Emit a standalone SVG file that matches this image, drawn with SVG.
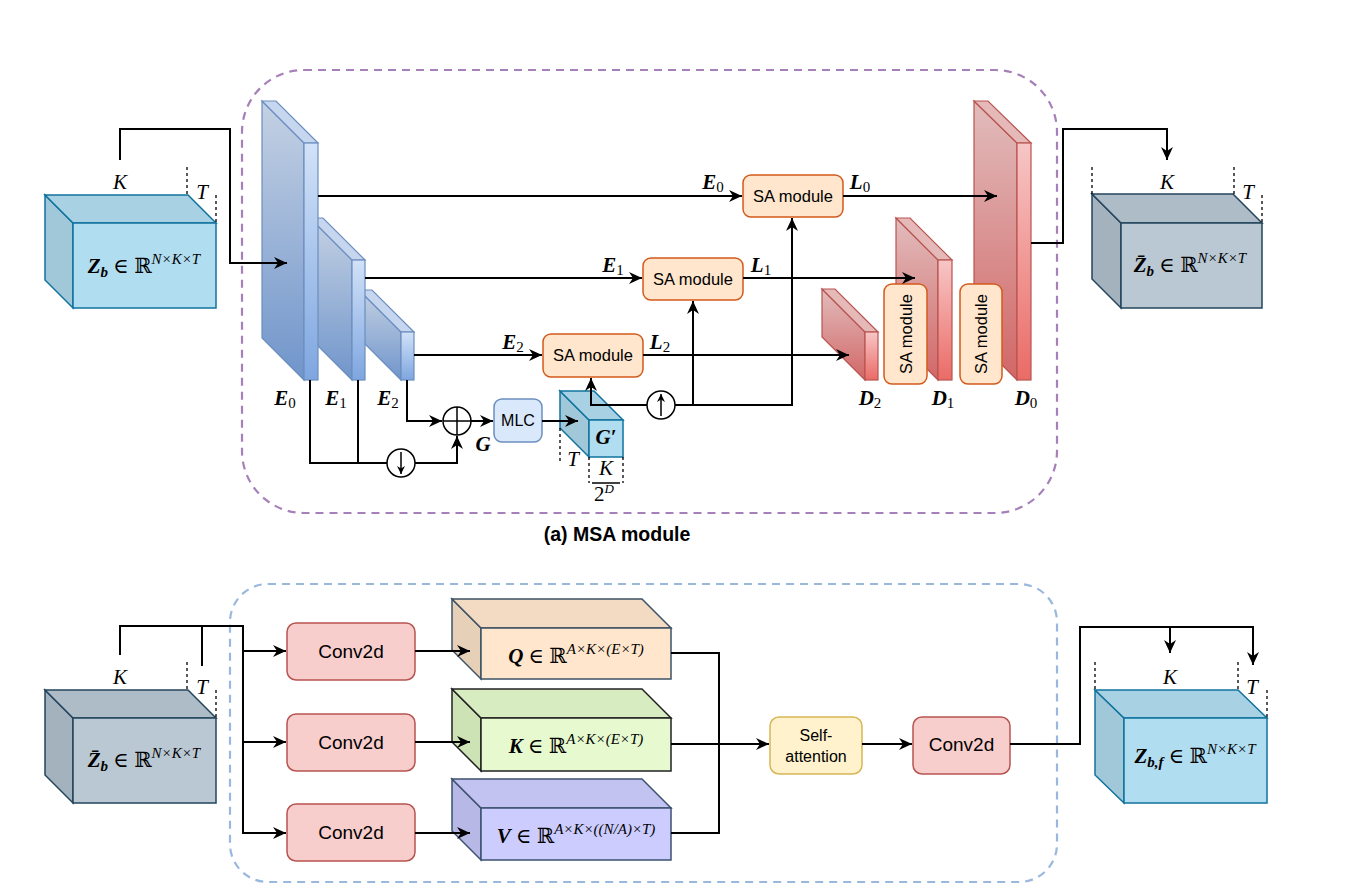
<svg xmlns="http://www.w3.org/2000/svg" width="1349" height="889" viewBox="0 0 1349 889">
  <defs>
    <style>
      .ln { fill: none; stroke: #000; stroke-width: 2; }
      .arr { marker-end: url(#ah); }
      .dim { fill: none; stroke: #000; stroke-width: 1.3; stroke-dasharray: 3 3; }
      .m { font-family: "Liberation Serif", "DejaVu Serif", serif; font-size: 21px; fill: #000; }
      .bi { font-weight: bold; font-style: italic; }
      .it { font-style: italic; }
      .sm { font-size: 15px; }
      .lbl { font-family: "Liberation Sans", Arial, sans-serif; fill: #000; text-anchor: middle; }
      .sa { fill: #ffe6cc; stroke: #d35a1d; stroke-width: 1.5; }
      .conv { fill: #f8cecc; stroke: #b85450; stroke-width: 1.5; }
      .blueC { stroke: #10739e; stroke-width: 1.5; }
      .grayC { stroke: #23445d; stroke-width: 1.5; }
      .encS { stroke: #6c8ebf; stroke-width: 1.2; }
      .decS { stroke: #b85450; stroke-width: 1.2; }
    </style>
    <marker id="ah" viewBox="0 0 13 12" refX="13" refY="6" markerWidth="13" markerHeight="12" markerUnits="userSpaceOnUse" orient="auto">
      <path d="M0,0 L13,6 L0,12 L4,6 Z" fill="#000"/>
    </marker>
    <marker id="ahs" viewBox="0 0 8 8" refX="8" refY="4" markerWidth="8" markerHeight="8" markerUnits="userSpaceOnUse" orient="auto">
      <path d="M0,0 L8,4 L0,8 L2.5,4 Z" fill="#000"/>
    </marker>
    <linearGradient id="encSide" x1="0" y1="0" x2="0" y2="1">
      <stop offset="0" stop-color="#c4d1e3"/>
      <stop offset="1" stop-color="#7095cb"/>
    </linearGradient>
    <linearGradient id="encFront" x1="0" y1="0" x2="0" y2="1">
      <stop offset="0" stop-color="#d2e2f8"/>
      <stop offset="1" stop-color="#7ea6e0"/>
    </linearGradient>
    <linearGradient id="decSide" x1="0" y1="0" x2="0" y2="1">
      <stop offset="0" stop-color="#e2bcbc"/>
      <stop offset="1" stop-color="#d26767"/>
    </linearGradient>
    <linearGradient id="decFront" x1="0" y1="0" x2="0" y2="1">
      <stop offset="0" stop-color="#f7c6c6"/>
      <stop offset="1" stop-color="#ea6b66"/>
    </linearGradient>
  </defs>

  <rect width="1349" height="889" fill="#fff"/>

  <!-- frames -->
  <g id="msa-frame">
    <rect x="242" y="70" width="815" height="443" rx="62" fill="none" stroke="#a680b8" stroke-width="2.2" stroke-dasharray="8 6"/>
    <text x="617" y="541" class="lbl" font-size="19.5" font-weight="bold">(a) MSA module</text>
  </g>
  <g id="attn-frame">
    <rect x="230" y="584" width="827" height="298" rx="38" fill="none" stroke="#9ab8de" stroke-width="2.2" stroke-dasharray="8 6"/>
  </g>

  <!-- input tensor Z_b -->
  <g id="zb-in">
    <polygon class="blueC" fill="#a0c8d9" points="45,195 73,223 73,308 45,280"/>
    <polygon class="blueC" fill="#a8d2e4" points="45,195 188,195 216,223 73,223"/>
    <rect class="blueC" fill="#b1ddf0" x="73" y="223" width="143" height="85"/>
    <text x="144" y="273" text-anchor="middle" class="m"><tspan class="bi">Z</tspan><tspan class="bi sm" dy="4">b</tspan><tspan dy="-4"> ∈ ℝ</tspan><tspan class="it sm" dy="-9">N×K×T</tspan></text>
    <path class="dim" d="M187,167 V195 M216,195 V223"/>
    <text x="120" y="189" text-anchor="middle" class="m it" font-size="20">K</text>
    <text x="202" y="199" text-anchor="middle" class="m it" font-size="20">T</text>
  </g>

  <!-- encoder features -->
  <g id="enc-e2">
    <polygon class="encS" fill="url(#encSide)" points="359,290 401,332 401,380 359,338"/>
    <polygon class="encS" fill="#c6d6ee" points="359,290 372,290 414,332 401,332"/>
    <rect class="encS" fill="url(#encFront)" x="401" y="332" width="13" height="48"/>
    <text x="388" y="405" text-anchor="middle" class="m"><tspan class="bi">E</tspan><tspan class="sm" dy="3">2</tspan></text>
  </g>
  <g id="enc-e1">
    <polygon class="encS" fill="url(#encSide)" points="310,218 352,260 352,380 310,338"/>
    <polygon class="encS" fill="#c6d6ee" points="310,218 323,218 365,260 352,260"/>
    <rect class="encS" fill="url(#encFront)" x="352" y="260" width="13" height="120"/>
    <text x="336" y="405" text-anchor="middle" class="m"><tspan class="bi">E</tspan><tspan class="sm" dy="3">1</tspan></text>
  </g>
  <g id="enc-e0">
    <polygon class="encS" fill="url(#encSide)" points="262,101 304,143 304,380 262,338"/>
    <polygon class="encS" fill="#c6d6ee" points="262,101 276,101 318,143 304,143"/>
    <rect class="encS" fill="url(#encFront)" x="304" y="143" width="14" height="237"/>
    <text x="285" y="405" text-anchor="middle" class="m"><tspan class="bi">E</tspan><tspan class="sm" dy="3">0</tspan></text>
  </g>

  <!-- fusion -->
  <g id="sum">
    <circle cx="457" cy="421" r="14" fill="#fff" stroke="#000" stroke-width="1.5"/>
    <path d="M443,421 H471 M457,407 V435" stroke="#000" stroke-width="1.5"/>
    <text x="483" y="451" text-anchor="middle" class="m bi">G</text>
  </g>
  <g id="down">
    <circle cx="401" cy="463" r="14" fill="#fff" stroke="#000" stroke-width="1.5"/>
    <path d="M401,452 V474" stroke="#000" stroke-width="1.5" marker-end="url(#ahs)"/>
  </g>
  <g id="mlc">
    <rect x="494" y="399" width="48" height="43" rx="8" fill="#dae8fc" stroke="#6c8ebf" stroke-width="1.5"/>
    <text x="518" y="426" class="lbl" font-size="16">MLC</text>
  </g>
  <g id="g-prime">
    <polygon class="blueC" fill="#a0c8d9" points="560,391 589,420 589,457 560,428"/>
    <polygon class="blueC" fill="#a8d2e4" points="560,391 594,391 623,420 589,420"/>
    <rect class="blueC" fill="#b1ddf0" x="589" y="420" width="34" height="37"/>
    <text x="606" y="444" text-anchor="middle" class="m bi">G′</text>
    <path class="dim" d="M560,428 V462 M589,457 V483 M623,457 V483"/>
    <text x="573" y="466" text-anchor="middle" class="m it" font-size="19">T</text>
    <text x="606" y="475" text-anchor="middle" class="m it" font-size="19">K</text>
    <path d="M592,483 H620" stroke="#000" stroke-width="1.5"/>
    <text x="604" y="501" text-anchor="middle" class="m" font-size="19">2<tspan class="it" font-size="13" dy="-8">D</tspan></text>
  </g>
  <g id="up">
    <circle cx="661" cy="405" r="14" fill="#fff" stroke="#000" stroke-width="1.5"/>
    <path d="M661,416 V394" stroke="#000" stroke-width="1.5" marker-end="url(#ahs)"/>
  </g>

  <!-- SA modules on skip paths -->
  <g id="sa-0">
    <rect class="sa" x="743" y="175" width="100" height="42" rx="8"/>
    <text x="793" y="202" class="lbl" font-size="16.5">SA module</text>
  </g>
  <g id="sa-1">
    <rect class="sa" x="643" y="258" width="100" height="42" rx="8"/>
    <text x="693" y="285" class="lbl" font-size="16.5">SA module</text>
  </g>
  <g id="sa-2">
    <rect class="sa" x="543" y="334" width="100" height="43" rx="8"/>
    <text x="593" y="361" class="lbl" font-size="16.5">SA module</text>
  </g>

  <!-- decoder features -->
  <g id="dec-d2">
    <polygon class="decS" fill="url(#decSide)" points="822,289 865,332 865,380 822,337"/>
    <polygon class="decS" fill="#e6b9b9" points="822,289 835,289 878,332 865,332"/>
    <rect class="decS" fill="url(#decFront)" x="865" y="332" width="13" height="48"/>
    <text x="870" y="405" text-anchor="middle" class="m"><tspan class="bi">D</tspan><tspan class="sm" dy="3">2</tspan></text>
  </g>
  <g id="dec-d1">
    <polygon class="decS" fill="url(#decSide)" points="896,218 938,260 938,380 896,338"/>
    <polygon class="decS" fill="#e6b9b9" points="896,218 910,218 952,260 938,260"/>
    <rect class="decS" fill="url(#decFront)" x="938" y="260" width="14" height="120"/>
    <text x="943" y="405" text-anchor="middle" class="m"><tspan class="bi">D</tspan><tspan class="sm" dy="3">1</tspan></text>
  </g>
  <g id="sa-d1">
    <rect class="sa" x="884" y="284" width="43" height="100" rx="8"/>
    <text x="905.5" y="340" class="lbl" font-size="16.5" transform="rotate(-90 905.5 334)">SA module</text>
  </g>
  <g id="dec-d0">
    <polygon class="decS" fill="url(#decSide)" points="974,101 1017,143 1017,380 974,337"/>
    <polygon class="decS" fill="#e6b9b9" points="974,101 988,101 1031,143 1017,143"/>
    <rect class="decS" fill="url(#decFront)" x="1017" y="143" width="14" height="237"/>
    <text x="1026" y="405" text-anchor="middle" class="m"><tspan class="bi">D</tspan><tspan class="sm" dy="3">0</tspan></text>
  </g>
  <g id="sa-d0">
    <rect class="sa" x="960" y="284" width="42" height="100" rx="8"/>
    <text x="981" y="340" class="lbl" font-size="16.5" transform="rotate(-90 981 334)">SA module</text>
  </g>

  <!-- output tensor of MSA -->
  <g id="zbar-out">
    <polygon class="grayC" fill="#a4b2bd" points="1092,194 1121,223 1121,308 1092,279"/>
    <polygon class="grayC" fill="#aebcc7" points="1092,194 1233,194 1262,223 1121,223"/>
    <rect class="grayC" fill="#bac8d3" x="1121" y="223" width="141" height="85"/>
    <text x="1190" y="272" text-anchor="middle" class="m"><tspan class="bi">Z̄</tspan><tspan class="bi sm" dy="4">b</tspan><tspan dy="-4"> ∈ ℝ</tspan><tspan class="it sm" dy="-9">N×K×T</tspan></text>
    <path class="dim" d="M1092,167 V194 M1234,167 V194 M1262,195 V223"/>
    <text x="1167" y="189" text-anchor="middle" class="m it" font-size="20">K</text>
    <text x="1248" y="199" text-anchor="middle" class="m it" font-size="20">T</text>
  </g>

  <!-- bottom: self-attention block input -->
  <g id="zbar-in">
    <polygon class="grayC" fill="#a4b2bd" points="45,690 73,718 73,803 45,775"/>
    <polygon class="grayC" fill="#aebcc7" points="45,690 188,690 216,718 73,718"/>
    <rect class="grayC" fill="#bac8d3" x="73" y="718" width="143" height="85"/>
    <text x="144" y="767" text-anchor="middle" class="m"><tspan class="bi">Z̄</tspan><tspan class="bi sm" dy="4">b</tspan><tspan dy="-4"> ∈ ℝ</tspan><tspan class="it sm" dy="-9">N×K×T</tspan></text>
    <path class="dim" d="M187,662 V690 M216,690 V718"/>
    <text x="120" y="684" text-anchor="middle" class="m it" font-size="20">K</text>
    <text x="202" y="694" text-anchor="middle" class="m it" font-size="20">T</text>
  </g>

  <g id="conv-q">
    <rect class="conv" x="287" y="623" width="128" height="57" rx="9"/>
    <text x="351" y="658" class="lbl" font-size="19">Conv2d</text>
  </g>
  <g id="conv-k">
    <rect class="conv" x="287" y="714" width="128" height="57" rx="9"/>
    <text x="351" y="749" class="lbl" font-size="19">Conv2d</text>
  </g>
  <g id="conv-v">
    <rect class="conv" x="287" y="804" width="128" height="57" rx="9"/>
    <text x="351" y="839" class="lbl" font-size="19">Conv2d</text>
  </g>

  <g id="q-tensor">
    <polygon fill="#e6d0b8" stroke="#3d5266" stroke-width="1.5" points="452,599 481,628 481,679 452,650"/>
    <polygon fill="#f2dbc2" stroke="#3d5266" stroke-width="1.5" points="452,599 642,599 671,628 481,628"/>
    <rect fill="#ffe6cc" stroke="#3d5266" stroke-width="1.5" x="481" y="628" width="190" height="51"/>
    <text x="576" y="663" text-anchor="middle" class="m"><tspan class="bi">Q</tspan><tspan> ∈ ℝ</tspan><tspan class="it sm" dy="-9">A×K×(E×T)</tspan></text>
  </g>
  <g id="k-tensor">
    <polygon fill="#cde3b6" stroke="#222" stroke-width="1.5" points="452,689 481,718 481,771 452,742"/>
    <polygon fill="#d7ecc1" stroke="#222" stroke-width="1.5" points="452,689 642,689 671,718 481,718"/>
    <rect fill="#e6f9cf" stroke="#222" stroke-width="1.5" x="481" y="718" width="190" height="53"/>
    <text x="576" y="753" text-anchor="middle" class="m"><tspan class="bi">K</tspan><tspan> ∈ ℝ</tspan><tspan class="it sm" dy="-9">A×K×(E×T)</tspan></text>
  </g>
  <g id="v-tensor">
    <polygon fill="#b8b8e6" stroke="#3d5170" stroke-width="1.5" points="452,779 481,808 481,860 452,831"/>
    <polygon fill="#c3c3f2" stroke="#3d5170" stroke-width="1.5" points="452,779 642,779 671,808 481,808"/>
    <rect fill="#ccccff" stroke="#3d5170" stroke-width="1.5" x="481" y="808" width="190" height="52"/>
    <text x="576" y="843" text-anchor="middle" class="m"><tspan class="bi">V</tspan><tspan> ∈ ℝ</tspan><tspan class="it sm" dy="-9">A×K×((N/A)×T)</tspan></text>
  </g>

  <g id="self-attention">
    <rect x="770" y="717" width="92" height="57" rx="9" fill="#fff2cc" stroke="#d6b656" stroke-width="1.5"/>
    <text x="816" y="741" class="lbl" font-size="16">Self-</text>
    <text x="816" y="762" class="lbl" font-size="16">attention</text>
  </g>
  <g id="conv-out">
    <rect class="conv" x="913" y="717" width="97" height="57" rx="9"/>
    <text x="961.5" y="751" class="lbl" font-size="19">Conv2d</text>
  </g>

  <g id="zbf-out">
    <polygon class="blueC" fill="#a0c8d9" points="1095,690 1124,718 1124,803 1095,775"/>
    <polygon class="blueC" fill="#a8d2e4" points="1095,690 1238,690 1267,718 1124,718"/>
    <rect class="blueC" fill="#b1ddf0" x="1124" y="718" width="143" height="85"/>
    <text x="1195" y="763" text-anchor="middle" class="m"><tspan class="bi">Z</tspan><tspan class="bi sm" dy="4">b,f</tspan><tspan dy="-4"> ∈ ℝ</tspan><tspan class="it sm" dy="-9">N×K×T</tspan></text>
    <path class="dim" d="M1095,662 V690 M1238,662 V690 M1267,690 V718"/>
    <text x="1170" y="684" text-anchor="middle" class="m it" font-size="20">K</text>
    <text x="1252" y="694" text-anchor="middle" class="m it" font-size="20">T</text>
  </g>

  <!-- edge labels -->
  <g id="edge-labels" class="m">
    <text x="713" y="189" text-anchor="middle"><tspan class="bi">E</tspan><tspan class="sm" dy="3">0</tspan></text>
    <text x="860" y="189" text-anchor="middle"><tspan class="bi">L</tspan><tspan class="sm" dy="3">0</tspan></text>
    <text x="613" y="272" text-anchor="middle"><tspan class="bi">E</tspan><tspan class="sm" dy="3">1</tspan></text>
    <text x="761" y="272" text-anchor="middle"><tspan class="bi">L</tspan><tspan class="sm" dy="3">1</tspan></text>
    <text x="513" y="349" text-anchor="middle"><tspan class="bi">E</tspan><tspan class="sm" dy="3">2</tspan></text>
    <text x="660" y="349" text-anchor="middle"><tspan class="bi">L</tspan><tspan class="sm" dy="3">2</tspan></text>
  </g>

  <!-- connectors -->
  <g id="connectors">
    <path class="ln arr" d="M120,160 V129 H230 V263 H287"/>
    <path class="ln arr" d="M318,196 H742"/>
    <path class="ln arr" d="M365,278 H642"/>
    <path class="ln arr" d="M414,355 H542"/>
    <path class="ln arr" d="M843,196 H997"/>
    <path class="ln arr" d="M743,278 H915"/>
    <path class="ln arr" d="M643,355 H849"/>
    <path class="ln" d="M310,380 V463 H387"/>
    <path class="ln" d="M358,380 V463"/>
    <path class="ln arr" d="M415,463 H457 V436"/>
    <path class="ln arr" d="M407,380 V421 H442"/>
    <path class="ln arr" d="M471,421 H493"/>
    <path class="ln arr" d="M542,421 H578"/>
    <path class="ln arr" d="M647,405 H591 V378"/>
    <path class="ln arr" d="M675,405 H792 V218"/>
    <path class="ln arr" d="M693,405 V301"/>
    <path class="ln arr" d="M1031,243 H1063 V129 H1167 V160"/>

    <path class="ln arr" d="M120,655 V626 H243 V833 H286"/>
    <path class="ln" d="M202,626 V666"/>
    <path class="ln arr" d="M243,651 H286"/>
    <path class="ln arr" d="M243,742 H286"/>
    <path class="ln arr" d="M415,651 H470"/>
    <path class="ln arr" d="M415,742 H470"/>
    <path class="ln arr" d="M415,833 H470"/>
    <path class="ln" d="M671,653 H719 V833 H671"/>
    <path class="ln arr" d="M671,744 H769"/>
    <path class="ln arr" d="M862,744 H912"/>
    <path class="ln arr" d="M1010,744 H1080 V627 H1253 V665"/>
    <path class="ln arr" d="M1170,627 V653"/>
  </g>
</svg>
